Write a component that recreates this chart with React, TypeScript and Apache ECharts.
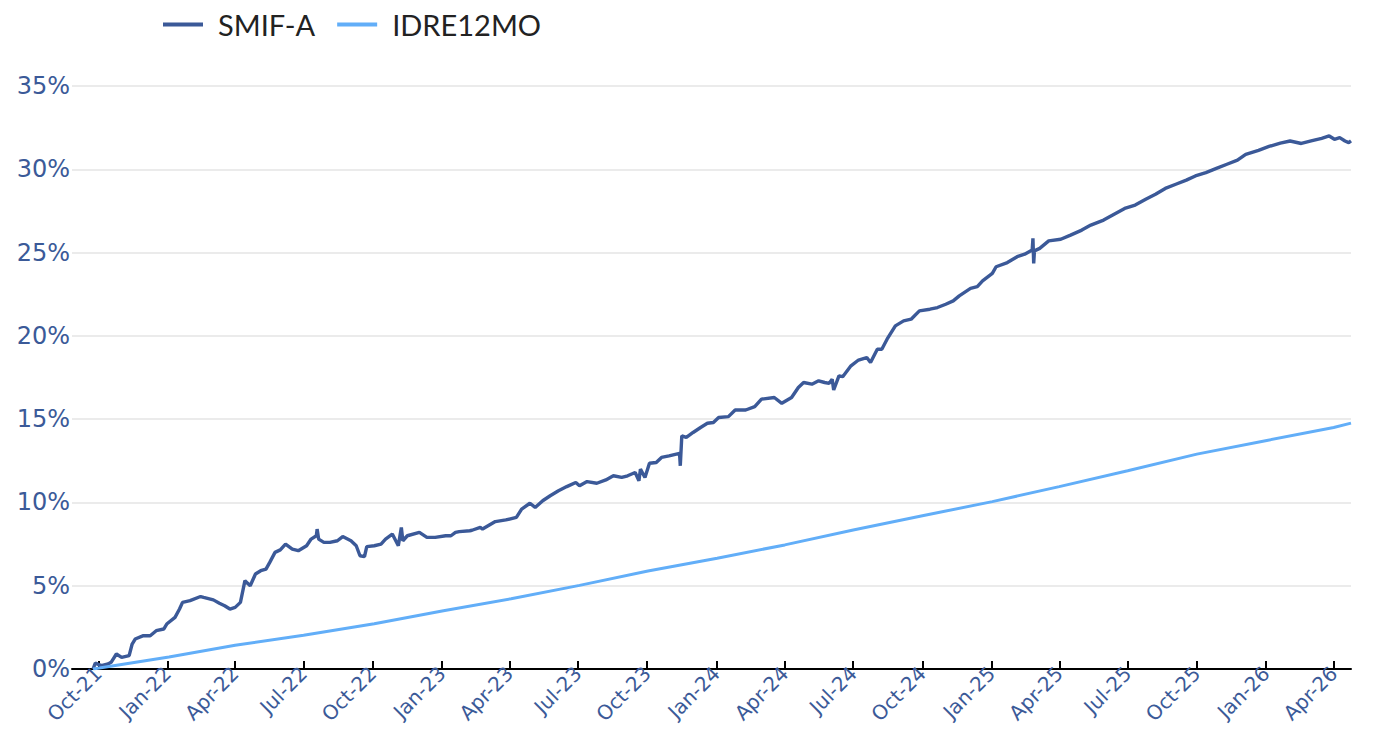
import React, { useEffect, useRef } from 'react';
import * as echarts from 'echarts';

const tickLabels = [
  'Oct-21', 'Jan-22', 'Apr-22', 'Jul-22', 'Oct-22', 'Jan-23', 'Apr-23', 'Jul-23', 'Oct-23',
  'Jan-24', 'Apr-24', 'Jul-24', 'Oct-24', 'Jan-25', 'Apr-25', 'Jul-25', 'Oct-25', 'Jan-26', 'Apr-26',
];

const yTicks = [0, 5, 10, 15, 20, 25, 30, 35];

const seriesNames = ['SMIF-A', 'IDRE12MO'];

const smifDates = [
  '2021-09-24', '2021-09-27', '2021-10-05', '2021-10-14', '2021-10-18', '2021-10-25', '2021-11-01', '2021-11-11',
  '2021-11-15', '2021-11-19', '2021-11-30', '2021-12-09', '2021-12-17', '2021-12-27', '2021-12-31',
  '2022-01-11', '2022-01-17', '2022-01-21', '2022-01-31', '2022-02-14', '2022-02-18', '2022-03-03', '2022-03-11',
  '2022-03-18', '2022-03-25', '2022-04-01', '2022-04-08', '2022-04-14', '2022-04-21', '2022-04-28', '2022-05-05',
  '2022-05-12', '2022-05-17', '2022-05-24', '2022-05-31', '2022-06-07', '2022-06-16', '2022-06-24', '2022-07-05',
  '2022-07-11', '2022-07-18', '2022-07-19', '2022-07-21', '2022-07-28', '2022-08-05', '2022-08-15', '2022-08-22',
  '2022-09-02', '2022-09-09', '2022-09-14', '2022-09-20', '2022-09-23', '2022-10-03', '2022-10-12', '2022-10-18',
  '2022-10-27', '2022-11-04', '2022-11-08', '2022-11-10', '2022-11-16', '2022-12-02', '2022-12-12', '2022-12-23',
  '2023-01-06', '2023-01-13', '2023-01-19', '2023-01-24', '2023-02-07', '2023-02-10', '2023-02-21', '2023-02-24',
  '2023-03-13', '2023-03-27', '2023-04-10', '2023-04-17', '2023-04-28', '2023-05-05', '2023-05-15', '2023-05-25',
  '2023-06-05', '2023-06-16', '2023-06-28', '2023-07-03', '2023-07-13', '2023-07-26', '2023-08-07', '2023-08-17',
  '2023-08-28', '2023-09-05', '2023-09-15', '2023-09-20', '2023-09-22', '2023-09-28', '2023-10-04', '2023-10-13',
  '2023-10-20', '2023-10-30', '2023-11-13', '2023-11-14', '2023-11-16', '2023-11-22', '2023-12-01', '2023-12-11',
  '2023-12-20', '2023-12-28',
  '2024-01-04', '2024-01-17', '2024-01-26', '2024-02-09', '2024-02-21', '2024-03-01', '2024-03-18', '2024-03-28',
  '2024-04-10', '2024-04-19', '2024-04-26', '2024-05-07', '2024-05-16', '2024-05-24', '2024-05-30', '2024-06-03',
  '2024-06-05', '2024-06-12', '2024-06-17', '2024-06-28', '2024-07-08', '2024-07-19', '2024-07-24', '2024-08-02',
  '2024-08-08', '2024-08-15', '2024-08-26', '2024-09-06', '2024-09-16', '2024-09-27', '2024-10-11', '2024-10-21',
  '2024-11-01', '2024-11-11', '2024-11-19', '2024-12-04', '2024-12-13', '2024-12-20',
  '2025-01-02', '2025-01-07', '2025-01-22', '2025-02-04', '2025-02-14', '2025-02-24', '2025-02-25', '2025-02-26',
  '2025-02-27', '2025-03-06', '2025-03-18', '2025-04-03', '2025-04-16', '2025-05-01', '2025-05-13', '2025-05-30',
  '2025-06-13', '2025-06-27', '2025-07-11', '2025-07-25', '2025-08-07', '2025-08-20', '2025-09-03', '2025-09-17',
  '2025-09-29', '2025-10-13', '2025-10-27', '2025-11-10', '2025-11-24', '2025-12-05', '2025-12-22',
  '2026-01-05', '2026-01-20', '2026-02-02', '2026-02-17', '2026-03-02', '2026-03-16', '2026-03-26', '2026-04-02',
  '2026-04-09', '2026-04-16', '2026-04-21', '2026-04-24',
];

const smifValues = [
  0.0, 0.35, 0.2, 0.3, 0.4, 0.9, 0.7, 0.8,
  1.5, 1.8, 2.0, 2.0, 2.3, 2.4, 2.7,
  3.1, 3.6, 4.0, 4.1, 4.35, 4.3, 4.15, 3.95,
  3.8, 3.6, 3.7, 4.0, 5.3, 5.0, 5.7, 5.9,
  6.0, 6.4, 7.0, 7.15, 7.5, 7.2, 7.1, 7.4,
  7.8, 8.0, 8.4, 7.8, 7.6, 7.6, 7.7, 7.95,
  7.7, 7.4, 6.8, 6.75, 7.35, 7.4, 7.5, 7.8,
  8.1, 7.4, 8.5, 7.7, 8.0, 8.2, 7.9, 7.9,
  8.0, 8.0, 8.2, 8.25, 8.3, 8.33, 8.5, 8.4,
  8.85, 8.95, 9.1, 9.6, 9.95, 9.7, 10.1, 10.4,
  10.7, 10.95, 11.2, 11.0, 11.25, 11.15, 11.35, 11.6,
  11.5, 11.6, 11.8, 11.3, 12.0, 11.5, 12.35, 12.4,
  12.7, 12.8, 12.95, 12.2, 14.0, 13.9, 14.2, 14.5,
  14.75, 14.8,
  15.1, 15.15, 15.55, 15.55, 15.75, 16.2, 16.3, 15.95,
  16.3, 16.9, 17.2, 17.1, 17.3, 17.2, 17.15, 17.4,
  16.75, 17.6, 17.55, 18.2, 18.55, 18.7, 18.4, 19.2,
  19.2, 19.8, 20.6, 20.9, 21.0, 21.5, 21.6, 21.7,
  21.9, 22.1, 22.4, 22.85, 22.95, 23.3,
  23.75, 24.15, 24.4, 24.75, 24.9, 25.15, 25.85, 24.35,
  25.1, 25.25, 25.7, 25.8, 26.05, 26.35, 26.65, 26.95,
  27.3, 27.65, 27.85, 28.2, 28.5, 28.85, 29.1, 29.35,
  29.6, 29.8, 30.05, 30.3, 30.55, 30.9, 31.14,
  31.37, 31.57, 31.7, 31.55, 31.7, 31.86, 32.0, 31.8,
  31.9, 31.7, 31.6, 31.7,
];

const idreDates = [
  '2021-09-24', '2022-01-03', '2022-04-01', '2022-07-01', '2022-10-03', '2023-01-03', '2023-04-03',
  '2023-07-03', '2023-10-02', '2024-01-02', '2024-04-01', '2024-07-01', '2024-10-01', '2025-01-02',
  '2025-04-01', '2025-07-01', '2025-10-01', '2026-01-02', '2026-04-01', '2026-04-24',
];

const idreValues = [
  0.0, 0.72, 1.42, 2.02, 2.72, 3.5, 4.22,
  5.02, 5.88, 6.65, 7.45, 8.35, 9.2, 10.05,
  10.95, 11.9, 12.9, 13.72, 14.5, 14.76,
];

const axisStart = '2021-08-27';
const axisEnd = '2026-04-24';

const MONTHS = ['Jan', 'Feb', 'Mar', 'Apr', 'May', 'Jun', 'Jul', 'Aug', 'Sep', 'Oct', 'Nov', 'Dec'];

function dateToTime(s: string): number {
  const [y, m, d] = s.split('-').map(Number);
  return Date.UTC(y, m - 1, d);
}

function labelToTime(l: string): number {
  const [m, y] = l.split('-');
  return Date.UTC(2000 + Number(y), MONTHS.indexOf(m), 1);
}

const tickTimes = tickLabels.map(labelToTime);

const AXIS_COLOR = '#3b5a98';
const AXIS_FONT = '"DejaVu Sans", Verdana, sans-serif';

export default function App() {
  const ref = useRef<HTMLDivElement>(null);

  useEffect(() => {
    document.body.style.margin = '0';
    if (!ref.current) return;
    const chart = echarts.init(ref.current, undefined, { renderer: 'svg' });
    const smifData = smifDates.map((d, i) => [dateToTime(d), smifValues[i]]);
    const idreData = idreDates.map((d, i) => [dateToTime(d), idreValues[i]]);

    chart.setOption({
      animation: false,
      backgroundColor: '#ffffff',
      legend: {
        data: seriesNames,
        left: 158,
        top: 5,
        icon: 'rect',
        itemWidth: 40,
        itemHeight: 4,
        itemGap: 22,
        textStyle: {
          fontFamily: 'Lato, "Open Sans", sans-serif',
          fontSize: 29,
          color: '#222222',
          padding: [0, 0, 0, 10],
        },
      },
      grid: {
        left: 72,
        right: 22,
        top: 86,
        bottom: 61,
        containLabel: false,
        outerBoundsMode: 'none',
      },
      xAxis: {
        type: 'value',
        min: dateToTime(axisStart),
        max: dateToTime(axisEnd),
        axisLine: { show: true, lineStyle: { color: '#000000', width: 2 } },
        axisTick: {
          show: true,
          inside: true,
          length: 8,
          lineStyle: { color: '#000000', width: 2 },
          customValues: tickTimes,
        },
        axisLabel: {
          customValues: tickTimes,
          rotate: 45,
          margin: 1,
          fontFamily: AXIS_FONT,
          fontSize: 20,
          color: AXIS_COLOR,
          formatter: (v: number) => {
            let best = 0;
            for (let i = 1; i < tickTimes.length; i++) {
              if (Math.abs(tickTimes[i] - v) < Math.abs(tickTimes[best] - v)) best = i;
            }
            return tickLabels[best];
          },
        },
        splitLine: { show: false },
      },
      yAxis: {
        type: 'value',
        min: yTicks[0],
        max: yTicks[yTicks.length - 1],
        interval: yTicks[1] - yTicks[0],
        axisLine: { show: false },
        axisTick: { show: false },
        axisLabel: {
          formatter: '{value}%',
          margin: 2,
          fontFamily: AXIS_FONT,
          fontSize: 24,
          color: AXIS_COLOR,
        },
        splitLine: { show: true, lineStyle: { color: '#e4e4e4', width: 1.5 } },
      },
      series: [
        {
          name: seriesNames[0],
          type: 'line',
          data: smifData,
          showSymbol: false,
          symbol: 'none',
          color: '#3b5998',
          lineStyle: { color: '#3b5998', width: 3.4 },
          z: 3,
        },
        {
          name: seriesNames[1],
          type: 'line',
          data: idreData,
          showSymbol: false,
          symbol: 'none',
          color: '#62aef8',
          lineStyle: { color: '#62aef8', width: 3 },
          z: 4,
        },
      ],
    });

    return () => {
      chart.dispose();
    };
  }, []);

  return <div ref={ref} style={{ width: 1373, height: 730 }} />;
}
